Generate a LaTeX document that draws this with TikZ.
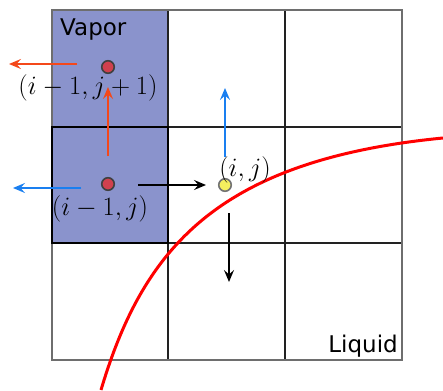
\documentclass[tikz,border=0pt]{standalone}
\usepackage{fix-cm}
\usepackage{fontspec}
\newfontfamily\dejavu{DejaVu Sans}
\usetikzlibrary{arrows.meta}
\definecolor{vapor}{HTML}{8A93CC}
\definecolor{arrred}{HTML}{F4481A}
\definecolor{arrblue}{HTML}{1A7FF0}
\definecolor{gridline}{HTML}{222222}
\definecolor{borderline}{HTML}{6E6E6E}
\definecolor{dotred}{HTML}{D0404E}
\definecolor{dotyellow}{HTML}{F4EF5E}
\tikzset{
  gridl/.style={draw=gridline, line width=2.2pt},
  dotnode/.style={circle, inner sep=0pt, minimum size=12.5pt, line width=1.6pt},
  rdot/.style={dotnode, fill=dotred, draw=black!75},
  ydot/.style={dotnode, fill=dotyellow, draw=black!55},
  flux/.style={line width=2pt, -{Stealth[length=12pt,width=10pt,inset=4.5pt]}},
  mlabel/.style={inner sep=0pt, font=\fontsize{26.5}{32}\selectfont},
  tlabel/.style={inner sep=0pt, font=\dejavu\fontsize{23}{27}\selectfont}
}
\begin{document}
\begin{tikzpicture}[x=1pt,y=-1pt]
\useasboundingbox (0,0) rectangle (443,390);
% vapor cells
\fill[vapor] (52,10) rectangle (168,243);
% grid
\draw[gridl] (168,10) -- (168,360);
\draw[gridl] (285,10) -- (285,360);
\draw[gridl] (52,127) -- (402,127);
\draw[gridl] (52,243) -- (402,243);
\draw[draw=borderline, line width=2.4pt] (52,10) rectangle (402,360);
\draw[draw=black, line width=2.4pt] (52,127) rectangle (168,243);
% interface
\draw[red, line width=3pt] (101,390) .. controls (143,249) and (217,160) .. (443,138);
% texts
\node[tlabel, anchor=base west] (vap) at (60,36) {Vapor};
\node[tlabel, anchor=base east] (liq) at (398,352) {Liquid};
% dots
\node[rdot] (up) at (108,67) {};
\node[rdot] (left) at (108,184) {};
\node[ydot] (cur) at (225,185) {};
\node[mlabel] (lup) at (88,88) {$(i-1,j+1)$};
\node[mlabel] (lleft) at (100,209) {$(i-1,j)$};
\node[mlabel] (lcur) at (245,170) {$(i,j)$};
% arrow end points
\coordinate (a1s) at (77,64);  \coordinate (a1e) at (9,64);
\coordinate (a2s) at (108,156); \coordinate (a2e) at (108,87);
\coordinate (a3s) at (81,188); \coordinate (a3e) at (13,188);
\coordinate (a4s) at (138,185); \coordinate (a4e) at (206,185);
\coordinate (a5s) at (225,157); \coordinate (a5e) at (225,88);
\coordinate (a6s) at (229,213); \coordinate (a6e) at (229,282);
\draw[flux, arrred] (a1s) -- (a1e);
\draw[flux, arrred] (a2s) -- (a2e);
\draw[flux, arrblue] (a3s) -- (a3e);
\draw[flux, black] (a4s) -- (a4e);
\draw[flux, arrblue] (a5s) -- (a5e);
\draw[flux, black] (a6s) -- (a6e);
\end{tikzpicture}
\end{document}
